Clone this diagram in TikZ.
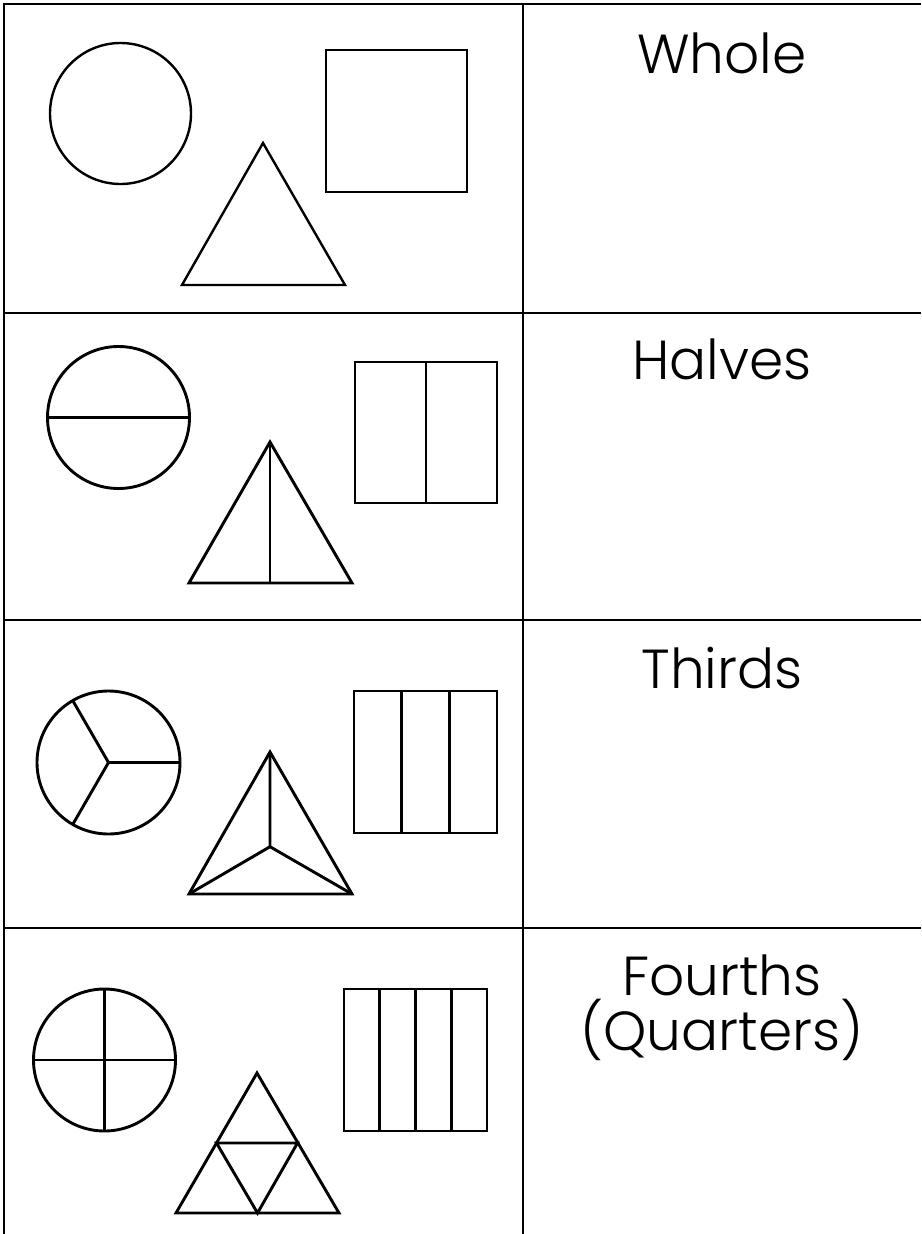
\documentclass[tikz,border=0pt]{standalone}
\usepackage{fontspec}
\setmainfont{Poppins}[UprightFont=* Light]
\begin{document}
\begin{tikzpicture}[x=1pt,y=-1pt,
  grid/.style={line width=2pt,black},
  shp/.style={line width=2.9pt,black,line join=miter},
  shpthin/.style={line width=2.4pt,black,line join=miter},
  lbl/.style={font=\fontsize{55}{60}\selectfont,anchor=base,inner sep=0pt}]
\useasboundingbox (0,0) rectangle (921,1234);
% table
\draw[grid] (4,1234) -- (4,4) -- (921,4);
\draw[grid] (523,4) -- (523,1234);
\draw[grid] (4,312.5) -- (921,312.5);
\draw[grid] (4,620) -- (921,620);
\draw[grid] (4,927.5) -- (921,927.5);
% labels
\node[lbl] (whole) at (722,73) {Whole};
\node[lbl] (halves) at (722,379) {Halves};
\node[lbl] (thirds) at (722,688) {Thirds};
\node[lbl] (fourths) at (722,995) {Fourths};
\node[lbl] (quarters) at (722,1050) {(Quarters)};
% row 1: whole
\draw[shpthin] (120.5,113.5) circle[radius=70.5];
\draw[shpthin] (326,50) rectangle (467,192);
\draw[shpthin] (263,143) -- (345,285) -- (182,285) -- cycle;
% row 2: halves
\draw[shp] (118.5,417.5) circle[radius=71];
\draw[shp] (47.5,417.5) -- (189.5,417.5);
\draw[shp] (270,442) -- (352,583) -- (189,583) -- cycle;
\draw[shp] (270,442) -- (270,583);
\draw[shp] (355,362) rectangle (497,503);
\draw[shp] (426,362) -- (426,503);
% row 3: thirds
\draw[shp] (108.5,762.5) circle[radius=71.5];
\foreach \a in {0,120,240} \draw[shp] (108.5,762.5) -- ++(\a:71.5);
\draw[shp] (270,752) -- (352,894) -- (189,894) -- cycle;
\draw[shp] (270,752) -- (270,846.7) -- (352,894) (270,846.7) -- (189,894);
\draw[shp] (354,691) rectangle (497,833);
\draw[shp] (401.7,691) -- (401.7,833) (449.3,691) -- (449.3,833);
% row 4: fourths
\draw[shp] (104.5,1060) circle[radius=71];
\draw[shp] (33.5,1060) -- (175.5,1060) (104.5,989) -- (104.5,1131);
\draw[shp] (257,1073) -- (339,1213) -- (176,1213) -- cycle;
\draw[shp] (216.5,1143) -- (297.5,1143) -- (257.5,1213) -- cycle;
\draw[shp] (344,989) rectangle (487,1131);
\draw[shp] (379.75,989) -- (379.75,1131) (415.5,989) -- (415.5,1131) (451.25,989) -- (451.25,1131);
\end{tikzpicture}
\end{document}
